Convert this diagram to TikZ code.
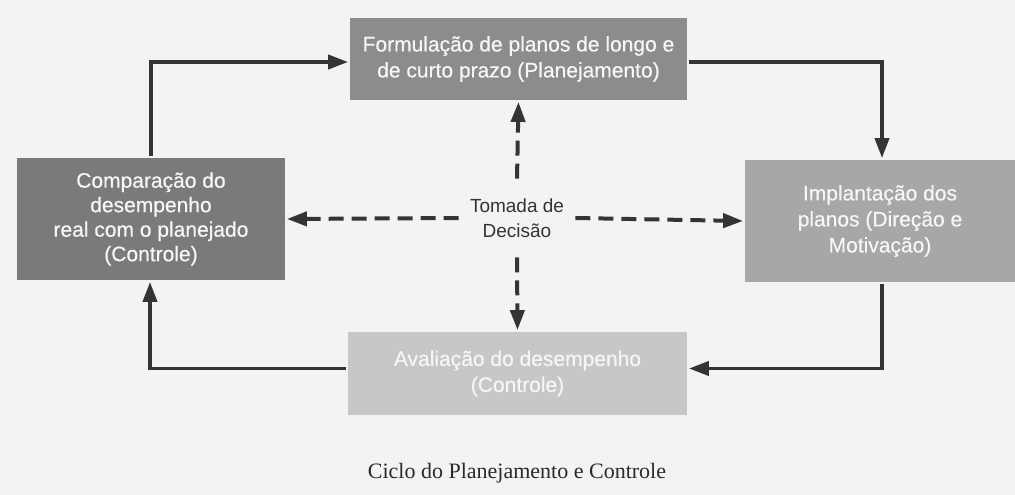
\documentclass[tikz,border=0pt]{standalone}
\usepackage{fontspec}
\setmainfont{Liberation Serif}
\newfontfamily\boxfont[FakeBold=0.5]{Liberation Sans}
\newfontfamily\decfont{Liberation Sans}
\usetikzlibrary{arrows.meta}
\definecolor{bg}{HTML}{F3F3F2}
\definecolor{ink}{HTML}{343434}
\definecolor{grayA}{HTML}{8C8C8C}
\definecolor{grayB}{HTML}{7A7A7A}
\definecolor{grayC}{HTML}{A7A7A7}
\definecolor{grayD}{HTML}{C7C7C7}
\begin{document}
\begin{tikzpicture}[x = 1pt, y = -1pt, line width = 3.8pt,
                        box/.style = {inner sep = 0pt, align = center, text = white!93!gray,
                                      font = \boxfont\fontsize{21}{26}\selectfont},
                        cycle/.style = {draw = ink, -{Triangle[length = 20pt, width = 14pt]}},
                        decide/.style = {draw = ink, line width = 4pt, dash pattern = on 15pt off 8pt,
                                         -{Triangle[length = 20pt, width = 14pt]}}]
      \fill [bg] (0, 0) rectangle (1015, 495);
      \node [box, fill = grayA, minimum width = 337pt, minimum height = 82pt] (plan) at (518.5, 59)
            {Formulação de planos de longo e\\de curto prazo (Planejamento)};
      \node [box, fill = grayC, minimum width = 270pt, minimum height = 122pt] (impl) at (880, 221)
            {Implantação dos\\planos (Direção e\\Motivação)};
      \node [box, fill = grayD, minimum width = 339pt, minimum height = 83pt] (aval) at (517.5, 373.5)
            {Avaliação do desempenho\\(Controle)};
      \node [box, fill = grayB, minimum width = 268pt, minimum height = 122pt,
             font = \boxfont\fontsize{21}{24.5}\selectfont] (comp) at (151, 219)
            {Comparação do\\desempenho\\real com o planejado\\(Controle)};
      \node [inner sep = 0pt, align = center, text = ink, minimum width = 113pt, minimum height = 75pt,
             font = \decfont\fontsize{19}{25}\selectfont] (dec) at (517, 218) {Tomada de\\Decisão};
      \node [text = ink!80!black, font = \fontsize{22}{26}\selectfont] (cap) at (517, 473)
            {Ciclo do Planejamento e Controle};
      \draw [cycle] (comp.north) |- ([yshift = -3pt]plan.west);
      \draw [cycle] ([yshift = -3pt]plan.east) -| ([xshift = 2pt]impl.north);
      \draw [cycle] ([xshift = 2pt]impl.south) |- ([yshift = 5pt]aval.east);
      \draw [cycle] ([yshift = 5pt]aval.west) -| ([xshift = -1pt]comp.south);
      \draw [decide] (dec.north) -- (plan.south);
      \draw [decide] (dec.south) -- (aval.north);
      \draw [decide] (dec.west) -- (comp.east);
      \draw [decide] (dec.east) -- (impl.west);
    \end{tikzpicture}
\end{document}
